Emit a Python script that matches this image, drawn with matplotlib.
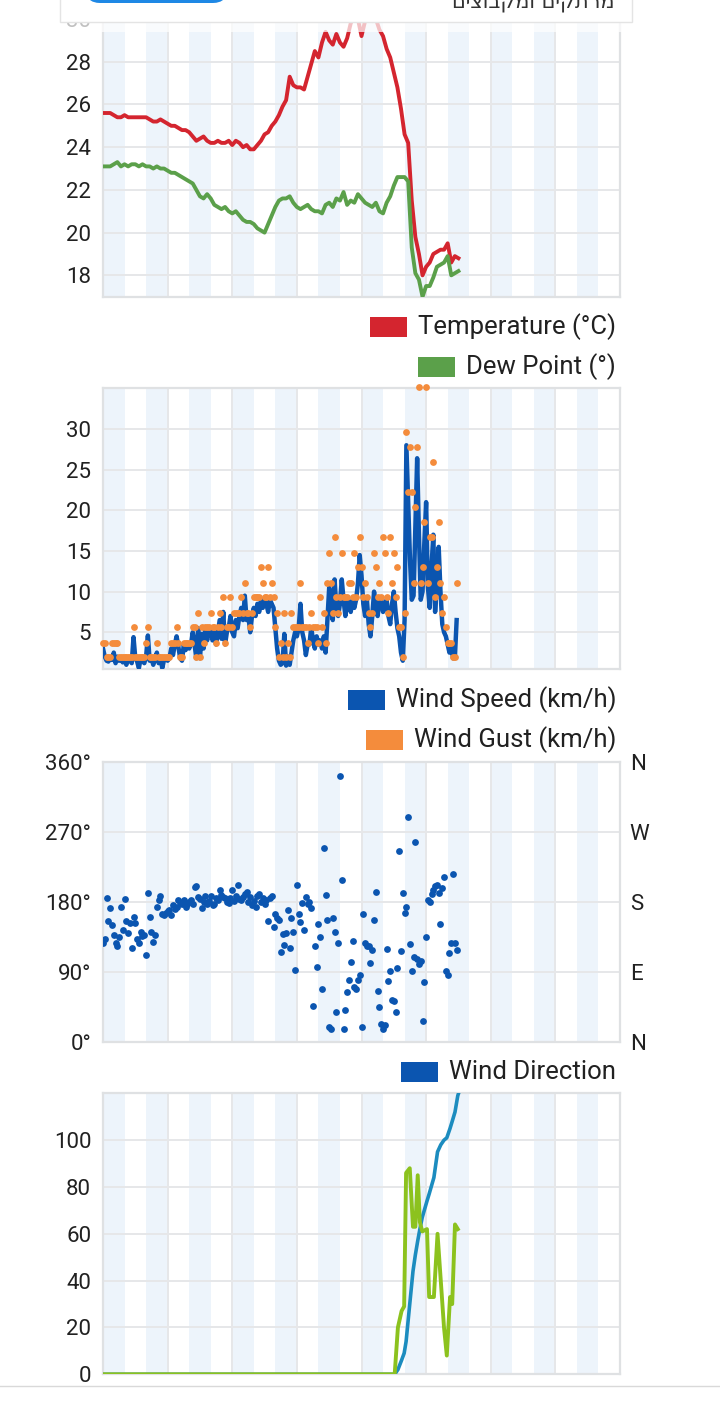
import numpy as np
import matplotlib
matplotlib.use("Agg")
import matplotlib.pyplot as plt
import matplotlib.transforms as mtransforms
from matplotlib.patches import Rectangle, FancyBboxPatch

W, H = 720, 1401

# temperature / dew point, one reading every 10 minutes from midnight
TEMP_STEP_MIN = 10
temperature = [
    25.6, 25.6, 25.6, 25.5, 25.4, 25.4, 25.5, 25.4, 25.4, 25.4,
    25.4, 25.4, 25.4, 25.3, 25.2, 25.2, 25.3, 25.2, 25.1, 25.0,
    25.0, 24.9, 24.8, 24.8, 24.7, 24.5, 24.3, 24.4, 24.5, 24.3,
    24.2, 24.2, 24.3, 24.2, 24.2, 24.3, 24.1, 24.3, 24.2, 24.0,
    24.1, 23.9, 23.9, 24.1, 24.3, 24.6, 24.7, 25.0, 25.2, 25.5,
    25.9, 26.2, 27.3, 26.9, 26.8, 26.8, 26.7, 27.3, 27.9, 28.5,
    28.2, 28.9, 29.4, 29.0, 28.8, 29.3, 28.9, 28.7, 29.1, 29.8,
    30.1, 30.0, 29.2, 29.9, 30.1, 29.9, 30.0, 29.5, 29.2, 28.6,
    28.2, 27.5, 26.8, 25.8, 24.6, 24.2, 21.5, 19.8, 19.0, 18.0,
    18.4, 18.6, 19.0, 19.1, 19.2, 19.2, 19.5, 18.6, 18.9, 18.8,
]
dew_point = [
    23.1, 23.1, 23.1, 23.2, 23.3, 23.1, 23.2, 23.1, 23.2, 23.2,
    23.1, 23.2, 23.1, 23.1, 23.0, 23.1, 23.0, 23.0, 22.9, 22.8,
    22.8, 22.7, 22.6, 22.5, 22.4, 22.3, 22.0, 21.7, 21.6, 21.8,
    21.6, 21.3, 21.2, 21.1, 21.2, 21.0, 20.9, 21.0, 20.8, 20.6,
    20.5, 20.5, 20.4, 20.2, 20.1, 20.0, 20.4, 20.8, 21.2, 21.5,
    21.6, 21.6, 21.7, 21.4, 21.2, 21.1, 21.2, 21.3, 21.1, 21.0,
    21.0, 20.9, 21.3, 21.4, 21.2, 21.6, 21.5, 21.9, 21.3, 21.5,
    21.4, 21.8, 21.6, 21.4, 21.3, 21.2, 21.4, 21.0, 20.9, 21.4,
    21.7, 22.2, 22.6, 22.6, 22.6, 22.4, 19.3, 18.1, 17.8, 17.0,
    17.5, 17.5, 17.9, 18.4, 18.5, 18.6, 18.9, 18.0, 18.1, 18.2,
]

# wind, one reading every 5 minutes (one row per hour)
WIND_STEP_MIN = 5
wind_speed = [
    3.0, 2.0, 1.5, 1.4, 1.8, 1.6, 2.5, 1.2, 2.0, 1.5, 1.8, 1.3,
    1.8, 1.0, 1.8, 1.5, 1.2, 4.4, 1.8, 1.4, 0.6, 1.8, 1.5, 1.2,
    2.0, 4.6, 1.5, 1.8, 1.0, 1.8, 2.5, 1.2, 1.8, 0.6, 1.6, 1.8,
    1.5, 1.8, 3.0, 2.2, 3.5, 4.5, 3.2, 1.8, 1.5, 3.5, 2.8, 3.5,
    3.0, 3.5, 5.0, 3.5, 1.8, 5.5, 1.8, 4.8, 3.0, 5.5, 4.0, 5.2,
    5.5, 4.0, 5.0, 3.5, 5.0, 6.5, 4.2, 7.5, 3.5, 5.0, 5.5, 7.0,
    5.0, 4.5, 6.5, 5.5, 7.0, 8.0, 6.5, 9.5, 6.5, 7.0, 5.0, 7.0,
    8.0, 7.0, 8.5, 7.5, 9.0, 8.0, 9.0, 8.5, 7.5, 9.0, 8.5, 8.0,
    5.5, 3.0, 1.5, 1.0, 1.2, 4.8, 0.9, 2.0, 1.0, 2.5, 4.0, 5.0,
    4.5, 5.5, 8.5, 5.0, 4.0, 2.2, 3.5, 3.5, 5.6, 4.0, 3.0, 4.5,
    3.5, 4.0, 3.0, 4.5, 2.5, 6.5, 10.5, 8.0, 6.5, 11.5, 8.0, 7.0,
    8.5, 11.5, 9.0, 7.0, 9.0, 8.5, 7.5, 9.0, 8.0, 9.0, 11.0, 14.5,
    12.0, 8.5, 7.0, 9.0, 6.0, 4.5, 7.0, 10.0, 8.0, 7.0, 9.0, 9.0,
    7.5, 8.5, 9.0, 7.0, 6.0, 8.5, 10.0, 7.5, 5.5, 4.5, 2.5, 1.5,
    6.5, 28.0, 21.0, 14.0, 9.0, 9.5, 18.0, 26.4, 17.0, 9.0, 10.0, 16.0,
    21.0, 10.5, 8.0, 13.0, 17.0, 7.5, 11.0, 15.5, 10.0, 6.0, 5.0, 4.5,
    3.5, 2.5, 3.5, 1.8, 1.8, 6.5,
]
wind_gust = [
    3.7, 3.7, 1.9, 1.9, 1.9, 3.7, 3.7, 3.7, 3.7, 1.9, 1.9, 1.9,
    1.9, 1.9, 1.9, 1.9, 1.9, 5.6, 1.9, 1.9, 1.9, 1.9, 1.9, 1.9,
    3.7, 5.6, 1.9, 1.9, 1.9, 1.9, 3.7, 1.9, 1.9, 1.9, 1.9, 1.9,
    1.9, 1.9, 3.7, 3.7, 3.7, 5.6, 3.7, 1.9, 1.9, 3.7, 3.7, 3.7,
    3.7, 3.7, 5.6, 5.6, 1.9, 7.4, 1.9, 5.6, 3.7, 5.6, 5.6, 5.6,
    7.4, 5.6, 5.6, 3.7, 5.6, 7.4, 5.6, 9.3, 3.7, 5.6, 5.6, 9.3,
    5.6, 7.4, 7.4, 7.4, 7.4, 9.3, 7.4, 11.1, 7.4, 7.4, 5.6, 7.4,
    9.3, 9.3, 9.3, 9.3, 13.0, 11.1, 9.3, 9.3, 13.0, 9.3, 11.1, 9.3,
    5.6, 7.4, 1.9, 3.7, 1.9, 7.4, 1.9, 3.7, 1.9, 7.4, 5.6, 5.6,
    5.6, 5.6, 11.1, 5.6, 5.6, 5.6, 3.7, 5.6, 7.4, 5.6, 5.6, 5.6,
    3.7, 9.3, 5.6, 7.4, 3.7, 11.1, 14.8, 11.1, 7.4, 16.7, 9.3, 7.4,
    9.3, 14.8, 9.3, 9.3, 9.3, 11.1, 11.1, 9.3, 14.8, 9.3, 13.0, 16.7,
    13.0, 9.3, 11.1, 9.3, 7.4, 5.6, 7.4, 14.8, 13.0, 9.3, 11.1, 9.3,
    16.7, 14.8, 9.3, 7.4, 16.7, 11.1, 14.8, 9.3, 13.0, 5.6, 5.6, 1.9,
    7.4, 29.6, 22.2, 27.8, 22.2, 11.1, 20.4, 27.8, 35.2, 11.1, 13.0, 18.5,
    35.2, 11.1, 16.7, 16.7, 25.9, 9.3, 13.0, 18.5, 11.1, 7.4, 9.3, 5.6,
    3.7, 3.7, 3.7, 1.9, 1.9, 11.1,
]
wind_dir = [
    128, 132, 185, 156, 172, 150, 138, 127, 123, 135, 174, 144,
    184, 155, 140, 153, 121, 161, 153, 133, 127, 141, 136, 138,
    112, 191, 161, 141, 129, 138, 174, 183, 188, 165, 163, 166,
    168, 170, 163, 176, 171, 174, 183, 180, 177, 183, 174, 178,
    180, 183, 178, 199, 201, 187, 184, 172, 180, 188, 178, 181,
    188, 176, 177, 185, 182, 195, 189, 186, 185, 180, 179, 185,
    195, 181, 188, 202, 184, 183, 187, 190, 193, 180, 187, 176,
    181, 174, 188, 190, 180, 185, 178, 183, 155, 185, 188, 148,
    165, 160, 157, 116, 139, 125, 140, 170, 121, 159, 142, 93,
    202, 165, 154, 179, 144, 186, 177, 180, 172, 46, 123, 97,
    152, 135, 69, 249, 189, 157, 19, 17, 159, 141, 39, 128,
    342, 208, 17, 41, 64, 80, 103, 130, 71, 68, 80, 86,
    20, 165, 128, 123, 123, 102, 118, 157, 193, 66, 45, 24,
    17, 22, 120, 79, 92, 54, 53, 39, 95, 245, 117, 191,
    166, 173, 289, 126, 92, 110, 257, 107, 100, 104, 27, 78,
    135, 182, 180, 190, 196, 200, 202, 191, 152, 198, 212, 91,
    86, 115, 127, 216, 127, 119,
]

# rain panel (read at irregular times, hours since midnight)
rain_hours = [0, 13.54, 13.69, 13.86, 13.98, 14.07, 14.24, 14.39, 14.50, 14.61,
              14.71, 14.82, 15.04, 15.14, 15.36, 15.53, 15.68, 15.83, 15.96,
              16.11, 16.21, 16.34, 16.47, 16.58]
rain_total = [0, 0, 2, 6, 9, 14, 30, 44, 51, 57,
              62, 67, 74, 77, 84, 95, 98, 100, 101,
              105, 108, 112, 119, 122]
rain_rate = [0, 0, 20, 27, 29, 86, 88, 63, 63, 85,
             65, 61, 62, 33, 33, 60, 40, 20, 8,
             33, 30, 64, 62, np.nan]

temp_ticks = [18, 20, 22, 24, 26, 28, 30]
wind_ticks = [5, 10, 15, 20, 25, 30]
dir_ticks = [0, 90, 180, 270, 360]
dir_labels = ["0°", "90°", "180°", "270°", "360°"]
compass_labels = ["N", "E", "S", "W", "N"]
rain_ticks = [0, 20, 40, 60, 80, 100]

TEXT = "#212121"
STRIPE = "#edf4fb"
GRID = "#e6e7e9"
BORDER = "#dfe1e3"
RED = "#d4252f"
GREEN = "#5ba04a"
BLUE = "#0b55b0"
ORANGE = "#f48c3c"
TEAL = "#1c8cbf"
LIME = "#8cc21e"
FS = 16
LEG_FS = 18.5

plt.rcParams["font.family"] = ["Roboto", "DejaVu Sans"]

fig = plt.figure(figsize=(W / 100, H / 100), dpi=100, facecolor="white")
PIX = mtransforms.IdentityTransform()


def axes_px(x0, y0, x1, y1):
    return fig.add_axes([x0 / W, 1 - y1 / H, (x1 - x0) / W, (y1 - y0) / H])


def style_axes(ax, ylim, ticks, labels=None):
    ax.set_xlim(0, 24)
    ax.set_ylim(*ylim)
    for h in range(0, 24, 2):
        ax.axvspan(h, h + 1, color=STRIPE, lw=0, zorder=0)
    ax.set_xticks(range(3, 24, 3))
    ax.set_xticklabels([])
    ax.set_yticks(ticks)
    ax.set_yticklabels(labels if labels else [str(t) for t in ticks])
    ax.tick_params(length=0, pad=8.5, labelsize=FS, labelcolor=TEXT)
    ax.grid(True, color=GRID, lw=1.4)
    ax.set_axisbelow(True)
    for s in ax.spines.values():
        s.set_color(BORDER)
        s.set_linewidth(1.6)


def legend_entry(y_center, label, color):
    t = fig.text(616 / W, 1 - y_center / H, label, ha="right", va="center",
                 fontsize=LEG_FS, color=TEXT)
    bb = t.get_window_extent(fig.canvas.get_renderer())
    right = bb.x0 - 11
    fig.add_artist(Rectangle((right - 37, H - y_center - 10), 37, 20,
                             transform=PIX, color=color, lw=0))


temp_hours = np.arange(len(temperature)) * TEMP_STEP_MIN / 60
wind_hours = np.arange(len(wind_speed)) * WIND_STEP_MIN / 60

# temperature / dew point
ax1 = axes_px(103, 6.2, 620, 296.7)
style_axes(ax1, (17.0, 30.6), temp_ticks)
ax1.plot(temp_hours, temperature, color=RED, lw=2.8, zorder=3)
ax1.plot(temp_hours, dew_point, color=GREEN, lw=2.8, zorder=3)

# wind speed / gust
ax2 = axes_px(103, 388.3, 620, 668.7)
style_axes(ax2, (0.52, 35.0), wind_ticks)
ax2.plot(wind_hours, wind_speed, color=BLUE, lw=3.2, zorder=3)
ax2.scatter(wind_hours, wind_gust, s=24, color=ORANGE, lw=0, zorder=4, clip_on=False)

# wind direction
ax3 = axes_px(103, 761.7, 620, 1042.3)
style_axes(ax3, (0, 360), dir_ticks, dir_labels)
ax3.scatter(wind_hours, wind_dir, s=24, color=BLUE, lw=0, zorder=3)
ax3r = ax3.twinx()
ax3r.set_ylim(0, 360)
ax3r.set_yticks(dir_ticks)
ax3r.set_yticklabels(compass_labels)
ax3r.tick_params(length=0, pad=7, labelsize=FS, labelcolor=TEXT)
for s in ax3r.spines.values():
    s.set_visible(False)

# rain
ax4 = axes_px(103, 1093.3, 620, 1374.3)
style_axes(ax4, (0, 120), rain_ticks)
ax4.plot(rain_hours, rain_total, color=TEAL, lw=2.6, zorder=3)
ax4.plot(rain_hours, rain_rate, color=LIME, lw=2.8, zorder=4)

# legends
legend_entry(327, "Temperature (°C)", RED)
legend_entry(367, "Dew Point (°)", GREEN)
legend_entry(700, "Wind Speed (km/h)", BLUE)
legend_entry(740, "Wind Gust (km/h)", ORANGE)
legend_entry(1072, "Wind Direction", BLUE)

# faded sticky header at the top of the page
fig.add_artist(Rectangle((0, H - 32), W, 40, transform=PIX, facecolor="white",
                         alpha=0.72, lw=0, zorder=10))
fig.add_artist(Rectangle((60, H - 21.7), 572, 40, transform=PIX, facecolor="white",
                         edgecolor="#e4e4e4", lw=1, zorder=11))
fig.add_artist(FancyBboxPatch((86, H - 3), 141, 30, transform=PIX,
                              boxstyle="round,pad=0,rounding_size=14",
                              facecolor="#1e88e5", lw=0, zorder=12))
fig.text(615 / W, 1 - 8 / H, "םיצובקמו םיקתרמ", ha="right", va="baseline",
         fontsize=15, color="#333333", family="DejaVu Sans", zorder=12)

# page separator under the last chart
fig.add_artist(plt.Line2D([0, 1], [1 - 1386 / H] * 2, transform=fig.transFigure,
                          color="#d9d9d9", lw=1))

fig.savefig("out.png", dpi=100, facecolor="white")
